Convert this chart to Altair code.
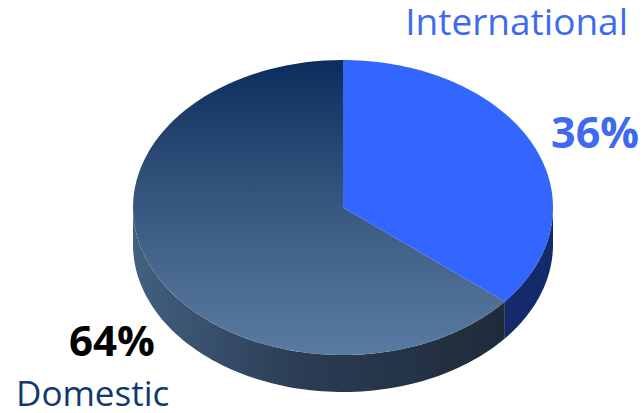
import altair as alt
import pandas as pd

# ---- data ----
labels = ["International", "Domestic"]
shares = [36, 64]
order = [0, 1]

df = pd.DataFrame({"label": labels, "share": shares, "ord": order})

W, H = 643, 413
CX, CY, RX, RY, DEPTH = 343, 207.5, 210, 147.5, 37
N = 90

xs = alt.Scale(domain=[0, W], range=[0, W], nice=False, zero=False)
ys = alt.Scale(domain=[0, H], range=[0, H], nice=False, zero=False)

base = alt.Chart(df).transform_joinaggregate(
    total="sum(share)"
).transform_window(
    cum="sum(share)", sort=[alt.SortField("ord")]
).transform_calculate(
    a1="-90 + 360 * datum.cum / datum.total",
    a0="-90 + 360 * (datum.cum - datum.share) / datum.total",
)

# top face polygon: center + arc points + center
top = base.transform_calculate(
    steps=f"sequence(0, {N + 3})"
).transform_flatten(["steps"]).transform_calculate(
    ang=f"(datum.a0 + (datum.a1 - datum.a0) * (datum.steps - 1) / {N}) * PI / 180",
).transform_calculate(
    px=f"(datum.steps == 0 || datum.steps == {N + 2}) ? {CX} : {CX} + {RX} * cos(datum.ang)",
    py=f"(datum.steps == 0 || datum.steps == {N + 2}) ? {CY} : {CY} + {RY} * sin(datum.ang)",
)

def top_layer(lbl, fill):
    return top.transform_filter(alt.datum.label == lbl).mark_line(
        fill=fill, stroke=None, strokeWidth=0
    ).encode(
        x=alt.X("px:Q", scale=xs, axis=None),
        y=alt.Y("py:Q", scale=ys, axis=None),
        order=alt.Order("steps:Q"),
    )

# side wall (front half only)
side = base.transform_calculate(
    s0="max(datum.a0, 0)", s1="min(datum.a1, 180)"
).transform_filter("datum.s1 > datum.s0").transform_calculate(
    steps=f"sequence(0, {N + 1})"
).transform_flatten(["steps"]).transform_calculate(
    ang=f"(datum.s0 + (datum.s1 - datum.s0) * datum.steps / {N}) * PI / 180",
).transform_calculate(
    px=f"{CX} + {RX} * cos(datum.ang)",
    py=f"{CY} + {RY} * sin(datum.ang)",
    py2=f"{CY} + {RY} * sin(datum.ang) + {DEPTH}",
)

def side_layer(lbl, fill):
    return side.transform_filter(alt.datum.label == lbl).mark_area(
        fill=fill, stroke=None, orient="vertical"
    ).encode(
        x=alt.X("px:Q", scale=xs, axis=None),
        y=alt.Y("py:Q", scale=ys, axis=None),
        y2="py2:Q",
    )

dom_side_grad = alt.LinearGradient(
    gradient="linear",
    stops=[alt.GradientStop(color="#42607f", offset=0),
           alt.GradientStop(color="#2b3c54", offset=0.45),
           alt.GradientStop(color="#1f2b3a", offset=1)],
    x1=0, x2=1, y1=0, y2=0,
)
dom_top_grad = alt.LinearGradient(
    gradient="linear",
    stops=[alt.GradientStop(color="#0c2d5c", offset=0),
           alt.GradientStop(color="#3d5c83", offset=0.55),
           alt.GradientStop(color="#5a7ba1", offset=1)],
    x1=0, x2=0, y1=0, y2=1,
)

layers = [
    side_layer("Domestic", dom_side_grad),
    side_layer("International", "#142a6b"),
    top_layer("Domestic", dom_top_grad),
    top_layer("International", "#3366ff"),
]

def label(text, x, y, size, color, weight="normal", align="left"):
    return alt.Chart(pd.DataFrame({"t": [text]})).mark_text(
        font="Open Sans", fontSize=size, fontWeight=weight, color=color,
        align=align, baseline="alphabetic",
    ).encode(x=alt.value(x), y=alt.value(y), text="t:N")

layers += [
    label(labels[0], 628, 35, 37, "#3e6af0", weight=500, align="right"),
    label(f"{shares[0]}%", 639, 148, 43, "#3e6af0", weight="bold", align="right"),
    label(f"{shares[1]}%", 69, 356, 42, "#000000", weight="bold"),
    label(labels[1], 16, 406, 35, "#0f3a6e", weight=500),
]

chart = alt.layer(*layers).properties(
    width=W, height=H, autosize=alt.AutoSizeParams(type="none"), padding=0
).configure_view(stroke=None)

chart.save("out.html", embed_options={"renderer": "svg", "actions": False})
